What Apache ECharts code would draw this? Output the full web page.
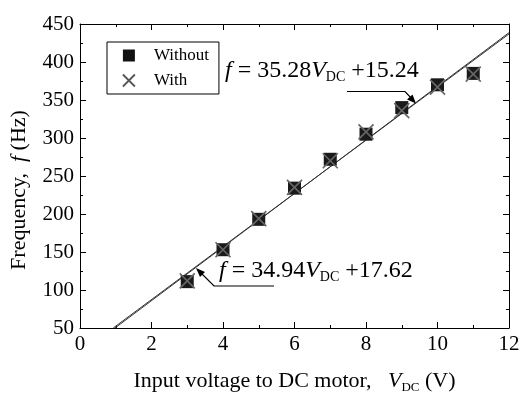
<!DOCTYPE html>
<html>
<head>
<meta charset="utf-8">
<script src="https://cdn.jsdelivr.net/npm/echarts@6/dist/echarts.min.js"></script>
<style>
  html, body { margin: 0; padding: 0; background: #fff; }
  #chart { width: 521px; height: 396px; }
</style>
</head>
<body>
<div id="chart"></div>
<script>
const voltage = [3, 4, 5, 6, 7, 8, 9, 10, 11];
const freqWithout = [111, 153, 193, 234, 272, 305, 340, 370, 385];
const freqWith = [112, 153, 194, 235, 270, 308, 336, 367, 384];

// fitted lines (end points as drawn)
const fitWithout = [[0.98, 50], [12, 438.6]];
const fitWith = [[0.93, 50], [12, 436.9]];

const xTicks = [0, 2, 4, 6, 8, 10, 12];
const yTicks = [50, 100, 150, 200, 250, 300, 350, 400, 450];

const serif = '"Liberation Serif", "DejaVu Serif", serif';
const crossPath = 'path://M0,0L10,10M10,0L0,10';

const chart = echarts.init(document.getElementById('chart'));

const tickStyle = { show: true, inside: true, length: 6, lineStyle: { color: '#000', width: 1 } };
const minorStyle = { show: true, splitNumber: 2, length: 3, lineStyle: { color: '#000', width: 1 } };

const xBase = {
  type: 'value',
  min: xTicks[0],
  max: xTicks[xTicks.length - 1],
  interval: 2,
  axisLine: { show: true, onZero: false, lineStyle: { color: '#000', width: 1 } },
  axisTick: tickStyle,
  minorTick: minorStyle,
  splitLine: { show: false },
};
const yBase = {
  type: 'value',
  min: yTicks[0],
  max: yTicks[yTicks.length - 1],
  interval: 50,
  axisLine: { show: true, onZero: false, lineStyle: { color: '#000', width: 1 } },
  axisTick: tickStyle,
  minorTick: minorStyle,
  splitLine: { show: false },
};

const eqRich = {
  n: { fontSize: 24, fontFamily: serif, fill: '#000' },
  i: { fontSize: 24, fontFamily: serif, fontStyle: 'italic', fill: '#000' },
  s: { fontSize: 14, fontFamily: serif, fill: '#000', padding: [12, 0, 0, 0] },
};

const option = {
  animation: false,
  textStyle: { fontFamily: serif },
  grid: { left: 80, right: 12, top: 24, bottom: 68, containLabel: false, outerBoundsMode: 'none' },
  xAxis: [
    Object.assign({}, xBase, {
      position: 'bottom',
      axisLabel: { color: '#000', fontSize: 21, fontFamily: serif, margin: 6 },
      name: '{n|Input voltage to DC motor,   }{i|V}{s|DC}{n| (V)}',
      nameLocation: 'middle',
      nameGap: 41,
      nameTextStyle: {
        rich: {
          n: { fontSize: 22, fontFamily: serif, color: '#000' },
          i: { fontSize: 22, fontFamily: serif, fontStyle: 'italic', color: '#000' },
          s: { fontSize: 13, fontFamily: serif, color: '#000', padding: [12, 0, 0, 0] },
        },
      },
    }),
    Object.assign({}, xBase, { position: 'top', axisLabel: { show: false } }),
  ],
  yAxis: [
    Object.assign({}, yBase, {
      position: 'left',
      axisLabel: { color: '#000', fontSize: 21, fontFamily: serif, margin: 6 },
      name: '{n|Frequency,  }{i|f}{n| (Hz)}',
      nameLocation: 'middle',
      nameGap: 50,
      nameRotate: 90,
      nameTextStyle: {
        padding: [0, 28, 0, 0],
        rich: {
          n: { fontSize: 22, fontFamily: serif, color: '#000' },
          i: { fontSize: 22, fontFamily: serif, fontStyle: 'italic', color: '#000' },
        },
      },
    }),
    Object.assign({}, yBase, { position: 'right', axisLabel: { show: false } }),
  ],
  legend: {
    orient: 'vertical',
    left: 107,
    top: 42,
    padding: [5, 10, 5, 15],
    itemGap: 8,
    itemWidth: 12,
    itemHeight: 12,
    borderColor: '#000',
    borderWidth: 1,
    textStyle: { fontSize: 17, fontFamily: serif, color: '#000', padding: [0, 0, 0, 14] },
    data: [
      { name: 'Without', icon: 'rect', itemStyle: { color: '#111' } },
      { name: 'With', icon: crossPath, itemStyle: { color: 'transparent', borderColor: '#555', borderWidth: 1.8 } },
    ],
  },
  series: [
    {
      name: 'fitWithout',
      type: 'line',
      data: fitWithout,
      symbol: 'none',
      lineStyle: { color: '#333', width: 1 },
      silent: true,
    },
    {
      name: 'fitWith',
      type: 'line',
      data: fitWith,
      symbol: 'none',
      lineStyle: { color: '#333', width: 1 },
      silent: true,
    },
    {
      name: 'Without',
      type: 'scatter',
      data: voltage.map((v, i) => [v, freqWithout[i]]),
      symbol: 'rect',
      symbolSize: 13,
      itemStyle: { color: '#1a1a1a', opacity: 1 },
      z: 3,
    },
    {
      name: 'With',
      type: 'scatter',
      data: voltage.map((v, i) => [v, freqWith[i]]),
      symbol: crossPath,
      symbolSize: 15,
      itemStyle: { color: 'transparent', borderColor: '#666', borderWidth: 1.6, opacity: 1 },
      z: 4,
    },
  ],
  graphic: [
    {
      type: 'text',
      left: 225,
      top: 59,
      style: { text: '{i|f}{n| = 35.28}{i|V}{s|DC}{n| +15.24}', rich: eqRich },
    },
    {
      type: 'polyline',
      shape: { points: [[347, 91.5], [405, 91.5], [414, 101]] },
      style: { stroke: '#000', lineWidth: 1.2, fill: null },
    },
    {
      type: 'polygon',
      shape: { points: [[416, 103.5], [407, 99.5], [412.5, 94.5]] },
      style: { fill: '#000' },
    },
    {
      type: 'text',
      left: 219,
      top: 259,
      style: { text: '{i|f}{n| = 34.94}{i|V}{s|DC}{n| +17.62}', rich: eqRich },
    },
    {
      type: 'polyline',
      shape: { points: [[274, 286], [214, 286], [198, 270]] },
      style: { stroke: '#000', lineWidth: 1.2, fill: null },
    },
    {
      type: 'polygon',
      shape: { points: [[196, 268], [205, 272], [200, 277]] },
      style: { fill: '#000' },
    },
  ],
};

chart.setOption(option);
</script>
</body>
</html>
